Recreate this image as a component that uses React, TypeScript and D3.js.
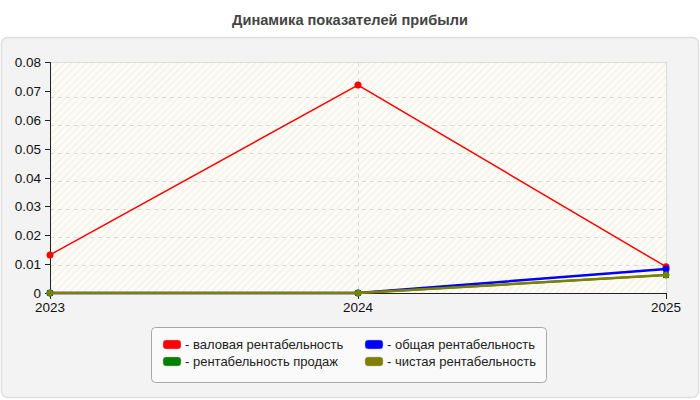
import React from "react";
import * as d3 from "d3";

const years = ["2023", "2024", "2025"];
const grossMargin = [0.0132, 0.072, 0.0091];
const totalMargin = [0, 0, 0.0083];
const salesMargin = [0, 0, 0.0062];
const netMargin = [0, 0, 0.0062];
const yTicks = [0, 0.01, 0.02, 0.03, 0.04, 0.05, 0.06, 0.07, 0.08];
const tickLabels = ["0", "0.01", "0.02", "0.03", "0.04", "0.05", "0.06", "0.07", "0.08"];

const series = [
  { name: "- валовая рентабельность", values: grossMargin, color: "#ff0000", width: 1.5, marker: "circle" },
  { name: "- рентабельность продаж", values: salesMargin, color: "#008000", width: 2, marker: "square" },
  { name: "- общая рентабельность", values: totalMargin, color: "#0000ff", width: 2.5, marker: "circle" },
  { name: "- чистая рентабельность", values: netMargin, color: "#808000", width: 2.5, marker: "diamond" },
];
const legendOrder = [0, 2, 1, 3];

const W = 700, H = 400;
const L = 50, R = 666, T = 62, B = 293;
const FONT = "'Liberation Sans', Arial, sans-serif";

export default function App() {
  const x = d3.scalePoint<string>().domain(years).range([L, R]);
  const y = d3.scaleLinear().domain([0, 0.08]).range([B, T]);
  const yGrid = d3.scaleLinear().domain([0, 0.08]).range([B, 69]);
  const line = d3
    .line<number>()
    .x((_, i) => x(years[i]) as number)
    .y((v) => y(v));

  const drawOrder = [0, 2, 1, 3];

  return (
    <svg width={W} height={H} style={{ position: "absolute", left: 0, top: 0 }} fontFamily={FONT}>
      <defs>
        <pattern id="hatch" width="5" height="5" patternUnits="userSpaceOnUse" patternTransform="rotate(45)">
          <rect width="5" height="5" fill="#fcfcf5" />
          <line x1="0" y1="0" x2="0" y2="5" stroke="#ebebe8" strokeWidth="1.5" />
        </pattern>
      </defs>
      <rect x={0} y={0} width={W} height={H} fill="#ffffff" />
      <text x={350} y={25} textAnchor="middle" fontSize={14.6} fontWeight="bold" fill="#444">
        Динамика показателей прибыли
      </text>
      <rect x={1.5} y={37.5} width={697} height={360} rx={6} fill="#f3f3f3" stroke="#e0e0e0" strokeWidth={1.5} />
      <rect x={L} y={T} width={R - L} height={B - T} fill="url(#hatch)" />
      <line x1={L} x2={R} y1={T + 0.5} y2={T + 0.5} stroke="#dcdcdc" />
      <line x1={R + 0.5} x2={R + 0.5} y1={T} y2={B} stroke="#dcdcdc" />
      {yTicks.slice(1, -1).map((t) => (
        <line key={t} x1={L} x2={R} y1={Math.round(yGrid(t)) + 0.5} y2={Math.round(yGrid(t)) + 0.5} stroke="#dadada" strokeDasharray="4,4" />
      ))}
      {years.slice(1, -1).map((yr) => (
        <line key={yr} x1={(x(yr) as number) + 0.5} x2={(x(yr) as number) + 0.5} y1={T} y2={B} stroke="#dadada" strokeDasharray="4,4" />
      ))}
      {/* axes */}
      <line x1={L + 0.5} x2={L + 0.5} y1={T} y2={B + 1} stroke="#222" />
      <line x1={L} x2={R + 1} y1={B + 0.5} y2={B + 0.5} stroke="#222" />
      {yTicks.map((t, i) => (
        <g key={t}>
          <line x1={L - 5} x2={L} y1={Math.round(y(t)) + 0.5} y2={Math.round(y(t)) + 0.5} stroke="#222" />
          <text x={L - 9} y={y(t) + 5} textAnchor="end" fontSize={13.5} fill="#111">
            {tickLabels[i]}
          </text>
        </g>
      ))}
      {years.map((yr) => (
        <g key={yr}>
          <line x1={(x(yr) as number) + 0.5} x2={(x(yr) as number) + 0.5} y1={B} y2={B + 6} stroke="#222" />
          <text x={x(yr) as number} y={B + 19} textAnchor="middle" fontSize={13.5} fill="#111">
            {yr}
          </text>
        </g>
      ))}
      {drawOrder.map((si) => {
        const s = series[si];
        return (
          <g key={si}>
            <path d={line(s.values) || ""} fill="none" stroke={s.color} strokeWidth={s.width} />
            {s.values.map((v, i) => {
              const cx = x(years[i]) as number;
              const cy = y(v);
              if (s.marker === "circle")
                return <circle key={i} cx={cx} cy={cy} r={3.5} fill={s.color} />;
              if (s.marker === "square")
                return <rect key={i} x={cx - 3} y={cy - 3} width={6} height={6} fill={s.color} />;
              return (
                <path key={i} d={`M${cx},${cy - 4}L${cx + 4},${cy}L${cx},${cy + 4}L${cx - 4},${cy}Z`} fill={s.color} />
              );
            })}
          </g>
        );
      })}
      {/* legend */}
      <rect x={151.5} y={327.5} width={395} height={55} rx={4} fill="#fafafa" stroke="#a8a8a8" />
      {legendOrder.map((si, k) => {
        const s = series[si];
        const col = k % 2;
        const row = Math.floor(k / 2);
        const lx = col === 0 ? 163 : 365;
        const ly = 344 + row * 17;
        return (
          <g key={si}>
            <rect x={lx} y={ly - 4} width={18} height={9} rx={3} fill={s.color} stroke="#bbb" strokeWidth={0.5} />
            <text x={lx + 22} y={ly + 4.5} fontSize={13} fill="#222">
              {s.name}
            </text>
          </g>
        );
      })}
    </svg>
  );
}
